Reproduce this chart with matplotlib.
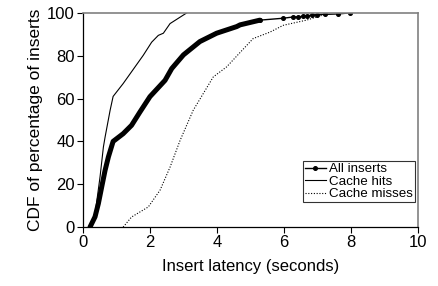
import matplotlib.pyplot as plt

plt.rcParams['font.family'] = ['Liberation Sans', 'DejaVu Sans']

# All inserts
all_x = [0.21, 0.36, 0.46, 0.56, 0.66, 0.76, 0.90, 1.20, 1.45, 1.70, 2.0, 2.45,
         2.65, 3.0, 3.49, 3.99, 4.59, 4.69, 5.28, 5.98, 6.28, 6.41, 6.58, 6.68,
         6.83, 6.98, 7.22, 7.62, 7.97]
all_y = [0, 4.8, 11, 18.8, 26.5, 32.8, 40, 43.6, 47.5, 53.7, 60.9, 68.5,
         74, 80.4, 86.6, 90.5, 93.6, 94.4, 96.6, 97.5, 98.1, 98.1, 98.4, 98.6,
         98.9, 99.2, 99.3, 99.5, 100]

# Cache hits
hit_x = [0.21, 0.36, 0.51, 0.61, 0.66, 0.81, 0.90, 1.20, 1.45, 1.80, 2.05,
         2.25, 2.40, 2.60, 2.85, 3.1]
hit_y = [0, 6, 23.5, 37.4, 42, 54.5, 61, 67, 72.5, 80.2, 86.3,
         89.5, 90.5, 95, 97.5, 100]

# Cache misses
miss_x = [1.20, 1.45, 1.95, 2.30, 2.60, 2.90, 3.29, 3.59, 3.89, 4.29, 4.69,
          5.08, 5.58, 5.98, 6.67, 7.27]
miss_y = [0, 4.7, 9.4, 17.2, 28, 40.5, 54.5, 62.3, 70.1, 74.8, 81.5,
          88, 91, 94.2, 96.6, 99.5]

fig = plt.figure(figsize=(4.39, 2.86), dpi=100)
ax = fig.add_axes([0.189, 0.206, 0.763, 0.749])

# dense part of all inserts drawn as a thick line, sparse tail with markers
n_dense = 19
ax.plot(all_x[:n_dense], all_y[:n_dense], color='black', lw=3.6,
        solid_capstyle='round')
h_all, = ax.plot(all_x[n_dense - 1:], all_y[n_dense - 1:], color='black',
                 lw=1, marker='o', ms=2.6, label='All inserts')
h_hit, = ax.plot(hit_x, hit_y, color='black', lw=0.8, label='Cache hits')
h_miss, = ax.plot(miss_x, miss_y, color='black', lw=0.8, ls=(0, (1, 1.5)),
                  label='Cache misses')

ax.set_xlim(0, 10)
ax.set_ylim(0, 100)
ax.set_xticks([0, 2, 4, 6, 8, 10])
ax.set_yticks([0, 20, 40, 60, 80, 100])
ax.tick_params(direction='out', length=4, width=0.8, labelsize=12, pad=2)

for s in ['top', 'right']:
    ax.spines[s].set_color('#808080')
    ax.spines[s].set_linewidth(1.2)
for s in ['left', 'bottom']:
    ax.spines[s].set_linewidth(0.9)

ax.set_xlabel("Insert latency (seconds)", fontsize=12, labelpad=6)
ax.set_ylabel("CDF of percentage of inserts", fontsize=12.5, labelpad=3)

leg = ax.legend(handles=[h_all, h_hit, h_miss], loc='lower right',
                bbox_to_anchor=(0.99, 0.115), fontsize=9.6, frameon=True,
                fancybox=False, edgecolor='black', handlelength=1.6,
                handletextpad=0.2, borderpad=0.15, labelspacing=0.02,
                borderaxespad=0)
leg.get_frame().set_linewidth(0.8)

plt.savefig("out.png", dpi=100)
plt.close()
